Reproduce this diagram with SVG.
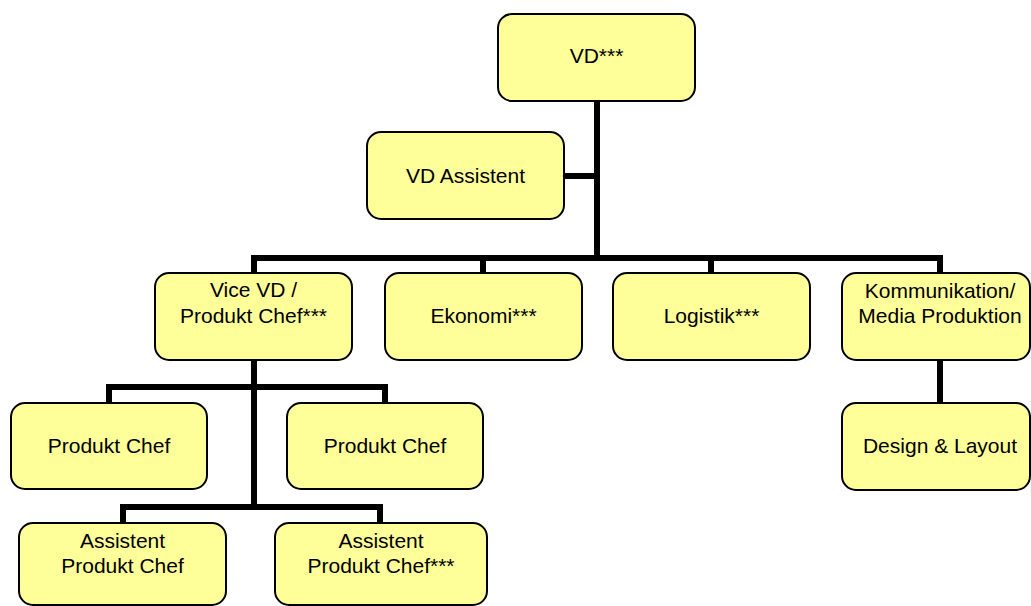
<svg xmlns="http://www.w3.org/2000/svg" width="1031" height="606" viewBox="0 0 1031 606">
<style>
.box{fill:#FFFF99;stroke:#000;stroke-width:2}
.lbl{font-family:"Liberation Sans",Arial,sans-serif;font-size:21px;fill:#000;text-anchor:middle}
.con{fill:none;stroke:#000;stroke-width:6;stroke-linejoin:miter;stroke-linecap:butt}
</style>
<rect width="1031" height="606" fill="#fff"/>
<g id="connectors">
<path class="con" d="M597,101 V261"/>
<path class="con" d="M564,176 H597"/>
<path class="con" d="M254,273 V258 H940 V273"/>
<path class="con" d="M483,258 V273"/>
<path class="con" d="M711,258 V273"/>
<path class="con" d="M254,360 V510"/>
<path class="con" d="M109,403 V387 H385 V403"/>
<path class="con" d="M123,523 V507 H380 V523"/>
<path class="con" d="M940,360 V403"/>
</g>
<g id="vd">
<rect class="box" x="498" y="14" width="197" height="87" rx="14"/>
<text class="lbl" x="596.5" y="63">VD***</text>
</g>
<g id="vd-assistent">
<rect class="box" x="367" y="132" width="197" height="87" rx="14"/>
<text class="lbl" x="465.5" y="183">VD Assistent</text>
</g>
<g id="vice-vd">
<rect class="box" x="155" y="273" width="197" height="87" rx="14"/>
<text class="lbl" x="253.5" y="297">Vice VD /</text>
<text class="lbl" x="253.5" y="323">Produkt Chef***</text>
</g>
<g id="ekonomi">
<rect class="box" x="385" y="273" width="197" height="87" rx="14"/>
<text class="lbl" x="483.5" y="323">Ekonomi***</text>
</g>
<g id="logistik">
<rect class="box" x="613" y="273" width="197" height="87" rx="14"/>
<text class="lbl" x="711.5" y="323">Logistik***</text>
</g>
<g id="kommunikation">
<rect class="box" x="842" y="273" width="188" height="87" rx="14"/>
<text class="lbl" x="940" y="298">Kommunikation/</text>
<text class="lbl" x="940" y="323">Media Produktion</text>
</g>
<g id="produkt-chef-1">
<rect class="box" x="11" y="403" width="196" height="86" rx="14"/>
<text class="lbl" x="109" y="453">Produkt Chef</text>
</g>
<g id="produkt-chef-2">
<rect class="box" x="287" y="403" width="196" height="86" rx="14"/>
<text class="lbl" x="385" y="453">Produkt Chef</text>
</g>
<g id="design">
<rect class="box" x="842" y="403" width="188" height="87" rx="14"/>
<text class="lbl" x="940" y="453">Design &amp; Layout</text>
</g>
<g id="assistent-1">
<rect class="box" x="19" y="523" width="207" height="82" rx="14"/>
<text class="lbl" x="122.5" y="548">Assistent</text>
<text class="lbl" x="122.5" y="573">Produkt Chef</text>
</g>
<g id="assistent-2">
<rect class="box" x="275" y="523" width="212" height="82" rx="14"/>
<text class="lbl" x="381" y="548">Assistent</text>
<text class="lbl" x="381" y="573">Produkt Chef***</text>
</g>
</svg>
